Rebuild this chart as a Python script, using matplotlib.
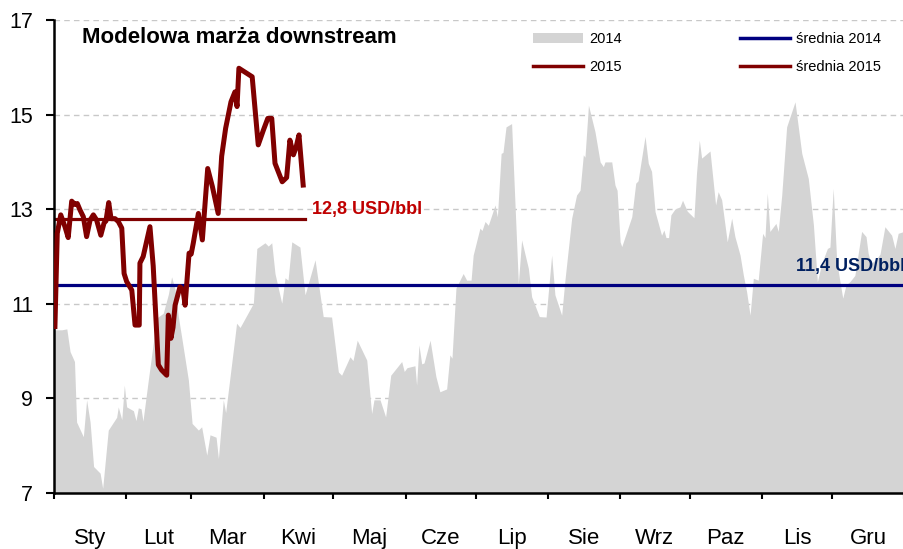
import matplotlib
matplotlib.use('Agg')
import matplotlib.pyplot as plt
from matplotlib.patches import Patch
from matplotlib.lines import Line2D

plt.rcParams['font.family'] = ['Liberation Sans', 'DejaVu Sans']

# 2014 margin, day of year -> USD/bbl
day_2014 = [0, 3.3, 5.5, 6.9, 8.8, 9.7, 12.6, 14.0, 15.5, 17.0, 19.8, 20.9, 23.3, 26.9,
            27.6, 29.1, 30.2, 31.2, 34.1, 35.2, 36.2, 37.4, 38.2, 40.5, 42.6, 44.1, 46.9,
            49.1, 50.5, 52.0, 53.4, 54.8, 57.7, 59.3, 62.0, 63.4, 65.6, 67.0, 69.6, 70.6,
            72.7, 73.7, 75.6, 77.7, 78.4, 79.9, 85.6, 87.1, 90.6, 92.0, 93.5, 94.9, 97.8,
            99.2, 100.5, 102.1, 105.6, 107.8, 112.1, 115.6, 119.2, 122.1, 123.5, 127.1,
            128.4, 130.2, 134.3, 136.4, 137.4, 140.0, 142.4, 144.6, 149.3, 150.4, 151.6,
            155.0, 155.7, 156.7, 157.9, 158.9, 161.5, 164.0, 165.7, 168.6, 170.0, 170.9,
            172.6, 175.7, 177.2, 179.1, 180.0, 182.9, 183.8, 185.1, 186.5, 189.4, 190.4,
            192.0, 192.8, 194.1, 196.5, 199.4, 200.8, 203.7, 205.1, 208.4, 211.3, 213.7,
            215.1, 218.0, 219.4, 222.3, 224.4, 225.9, 227.3, 228.0, 229.5, 232.3, 234.5,
            235.9, 236.6, 239.5, 240.9, 241.8, 243.1, 243.8, 248.1, 249.8, 250.8, 253.8,
            255.2, 256.6, 258.1, 260.9, 261.9, 262.8, 263.9, 264.9, 266.6, 268.8, 269.9,
            271.9, 274.8, 275.9, 277.1, 278.1, 281.7, 284.1, 285.2, 286.7, 289.1, 291.0,
            292.4, 294.6, 296.0, 297.4, 298.9, 300.3, 302.4, 304.3, 305.3, 306.3, 307.4,
            310.0, 311.0, 312.5, 314.6, 318.2, 321.1, 323.9, 326.1, 327.8, 329.7, 332.1,
            333.2, 334.6, 336.1, 337.5, 338.7, 340.1, 341.8, 343.9, 346.8, 348.7, 349.6,
            350.8, 353.2, 354.7, 356.8, 359.7, 361.1, 362.5, 365]
val_2014 = [10.45, 10.45, 10.47, 9.99, 9.78, 8.5, 8.19, 8.97, 8.5, 7.56, 7.42, 7.1, 8.33, 8.6,
            8.82, 8.55, 9.28, 8.82, 8.74, 8.53, 8.8, 8.78, 8.52, 9.39, 10.16, 10.7, 10.8,
            11.2, 11.57, 11.3, 10.73, 10.3, 9.39, 8.47, 8.33, 8.4, 7.8, 8.23, 8.18, 7.73,
            8.97, 8.7, 9.46, 10.3, 10.59, 10.5, 11.01, 12.17, 12.29, 12.22, 12.29, 11.64, 11.01,
            11.55, 11.5, 12.31, 12.2, 11.19, 11.93, 10.73, 10.72, 9.56, 9.49, 9.88,
            9.8, 10.23, 9.81, 8.68, 8.97, 8.97, 8.61, 9.49, 9.78, 9.57, 9.65,
            9.69, 9.28, 10.13, 9.73, 9.75, 10.23, 9.46, 9.14, 9.2, 9.92, 9.85,
            11.33, 11.64, 11.5, 11.5, 12.03, 12.6, 12.55, 12.74, 12.66, 13.09, 12.84,
            14.18, 14.2, 14.74, 14.81, 11.43, 12.35, 11.75, 11.15, 10.73, 10.72, 12.03,
            11.19, 10.76, 11.5, 12.81, 13.3, 13.4, 14.15, 14.1, 15.2, 14.64, 14.0,
            13.9, 14.0, 14.0, 13.51, 13.4, 12.31, 12.21, 12.84, 13.55, 13.6, 14.54,
            13.97, 13.8, 12.95, 12.45, 12.56, 12.4, 12.4, 12.88, 13.0, 13.05, 13.19,
            12.96, 12.82, 13.76, 14.46, 14.08, 14.23, 13.09, 13.37, 13.2, 12.31, 12.81,
            12.42, 12.03, 11.61, 11.26, 10.76, 11.54, 11.5, 12.49, 12.4, 13.34, 12.53,
            12.7, 12.53, 13.3, 14.74, 15.27, 14.18, 13.65, 12.67, 11.47, 11.86, 12.17,
            12.2, 13.44, 11.9, 11.47, 11.12, 11.4, 11.47, 11.6, 12.53, 12.42, 12.07,
            11.85, 11.95, 12.05, 12.63, 12.45, 12.17, 12.49, 12.53]

# 2015 margin (to early April)
day_2015 = [0.4, 1.4, 2.9, 4.7, 6.1, 7.6, 9.0, 10.0, 11.2, 12.6, 14.0, 15.5, 16.9, 18.3,
            20.1, 21.5, 22.3, 23.5, 24.5, 26.2, 27.6, 29.1, 30.1, 31.2, 33.4, 34.8, 36.6,
            36.9, 38.3, 41.2, 42.6, 44.8, 46.2, 48.4, 49.1, 50.2, 51.1, 52.0, 54.1, 55.4,
            56.3, 58.0, 58.9, 59.8, 62.0, 63.7, 66.0, 68.0, 70.5, 72.0, 73.7, 76.0, 77.7,
            78.6, 79.4, 85.1, 87.7, 89.9, 91.8, 93.5, 94.9, 98.0, 99.9, 101.3, 102.8,
            103.9, 105.2, 107.0]
val_2015 = [10.52, 12.49, 12.88, 12.63, 12.4, 13.17, 13.1, 13.12, 12.98, 12.84, 12.42, 12.77,
            12.88, 12.77, 12.45, 12.71, 12.75, 13.14, 12.8, 12.8, 12.74, 12.6, 11.64, 11.47,
            11.29, 10.55, 10.55, 11.86, 12.0, 12.63, 11.8, 9.71, 9.6, 9.49, 10.76, 10.27,
            10.5, 10.97, 11.36, 11.3, 10.97, 12.07, 12.05, 12.28, 12.91, 12.35, 13.86,
            13.48, 12.91, 14.12, 14.71, 15.27, 15.48, 15.17, 15.98, 15.8, 14.36, 14.67,
            14.92, 14.92, 13.97, 13.58, 13.67, 14.46, 14.15, 14.3, 14.57, 13.51]

avg_2014 = 11.4
avg_2015 = 12.8
avg_2015_end = 107.8

month_starts = [0, 31, 59, 90, 120, 151, 181, 212, 243, 273, 304, 334, 365]
month_names = ['Sty', 'Lut', 'Mar', 'Kwi', 'Maj', 'Cze', 'Lip', 'Sie', 'Wrz', 'Paz', 'Lis', 'Gru']

grey = '#d4d4d4'
maroon = '#800000'
navy = '#000080'

fig = plt.figure(figsize=(9.04, 5.49), dpi=100)
ax = fig.add_axes([54 / 904, 56 / 549, 850 / 904, 473 / 549])

for yv in [9, 11, 13, 15, 17]:
    ax.axhline(yv, color='#c8c8c8', lw=1.0, ls=(0, (4, 3)), zorder=0)

ax.fill_between(day_2014, 7, val_2014, color=grey, lw=0, zorder=1)
ax.axhline(avg_2014, color=navy, lw=2.3, zorder=2)
ax.plot([0, avg_2015_end], [avg_2015, avg_2015], color=maroon, lw=2.3, zorder=2)
ax.plot(day_2015, val_2015, color=maroon, lw=3.6, zorder=3, solid_joinstyle='round')

ax.text(110.8, 13.0, '12,8 USD/bbl', color='#c00000', fontsize=13, fontweight='bold',
        va='center', ha='left')
ax.text(318.5, 11.78, '11,4 USD/bbl', color='#002060', fontsize=13, fontweight='bold',
        va='center', ha='left', clip_on=False)
ax.text(12, 16.62, 'Modelowa marża downstream', fontsize=16, fontweight='bold', va='center')

ax.set_xlim(0, 365)
ax.set_ylim(7, 17)
ax.set_yticks([7, 9, 11, 13, 15, 17])
ax.set_xticks(month_starts)
ax.set_xticklabels([])
ax.set_xticks([(a + b) / 2 for a, b in zip(month_starts[:-1], month_starts[1:])], minor=True)
ax.set_xticklabels(month_names, minor=True, fontsize=16)
ax.tick_params(axis='x', which='minor', length=0, pad=25)
ax.tick_params(axis='x', which='major', length=4.5, width=1.5, direction='out')
ax.tick_params(axis='y', length=6, width=1.5, direction='out', pad=9, labelsize=15.5)

for s in ['top', 'right']:
    ax.spines[s].set_visible(False)
for s in ['left', 'bottom']:
    ax.spines[s].set_linewidth(1.8)

handles = [Patch(facecolor=grey, edgecolor='none'),
           Line2D([], [], color=maroon, lw=2.5),
           Line2D([], [], color=navy, lw=2.5),
           Line2D([], [], color=maroon, lw=2.5)]
labels = ['2014', '2015', 'średnia 2014', 'średnia 2015']
fig.legend(handles, labels, ncol=2, frameon=False, fontsize=10.5,
           loc='upper left', bbox_to_anchor=(520 / 904, 1 - 19 / 549),
           handlelength=3.4, handleheight=0.6, columnspacing=8.1, labelspacing=0.95,
           handletextpad=0.45)

plt.savefig('out.png', dpi=100)
